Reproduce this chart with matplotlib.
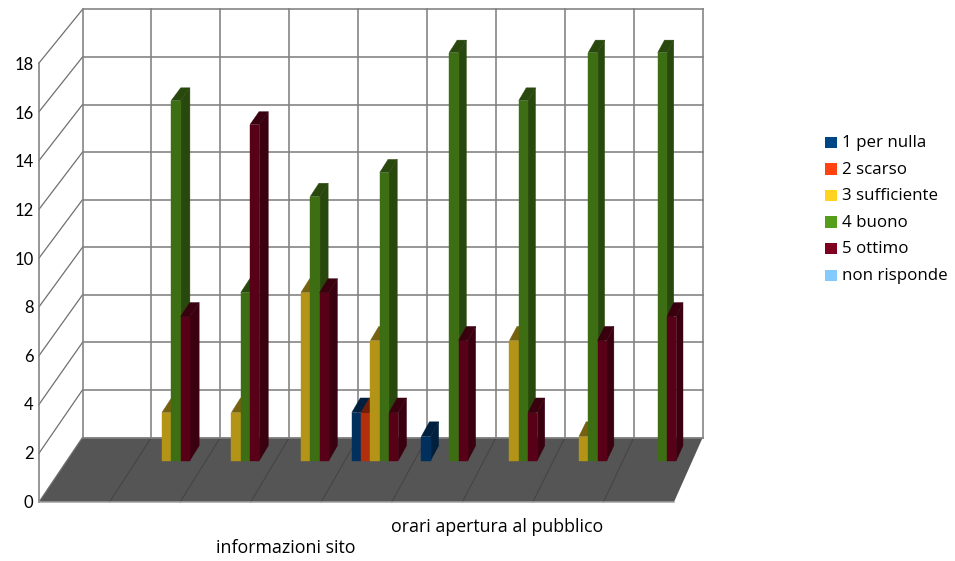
import matplotlib
matplotlib.use("Agg")
import matplotlib.pyplot as plt
from matplotlib.patches import Polygon, Rectangle

plt.rcParams['font.family'] = ['Lato', 'DejaVu Sans']

# Survey answer counts per topic (nine topics, the first has no answers)
category_labels = ["", "", "", "informazioni sito", "", "", "orari apertura al pubblico", "", ""]
series_names = ["1 per nulla", "2 scarso", "3 sufficiente", "4 buono", "5 ottimo", "non risponde"]
series_colors = ["#004586", "#ff420e", "#ffd320", "#579d1c", "#7e0021", "#83caff"]
per_nulla = [0, 0, 0, 0, 2, 1, 0, 0, 0]
scarso = [0, 0, 0, 0, 2, 0, 0, 0, 0]
sufficiente = [0, 2, 2, 7, 5, 0, 5, 1, 0]
buono = [0, 15, 7, 11, 12, 17, 15, 17, 17]
ottimo = [0, 6, 14, 7, 2, 5, 2, 5, 6]
non_risponde = [0, 0, 0, 0, 0, 0, 0, 0, 0]
series_values = [per_nulla, scarso, sufficiente, buono, ottimo, non_risponde]
y_ticks = list(range(0, 19, 2))
y_max = 18

# Box projection: cat in category units, val in axis units, depth 0 (front) to 1 (back)
FRONT_LEFT, FRONT_RIGHT, FRONT_Y, FRONT_UNIT = 39.0, 674.0, 502.0, 24.39
BACK_LEFT, BACK_RIGHT, BACK_Y, BACK_UNIT = 82.5, 702.7, 437.5, 23.78
N_CAT = len(category_labels)


def project(cat, val, depth):
    left = FRONT_LEFT + (BACK_LEFT - FRONT_LEFT) * depth
    right = FRONT_RIGHT + (BACK_RIGHT - FRONT_RIGHT) * depth
    floor = FRONT_Y + (BACK_Y - FRONT_Y) * depth
    unit = FRONT_UNIT + (BACK_UNIT - FRONT_UNIT) * depth
    return left + (right - left) * cat / N_CAT, floor - unit * val


def shade(hex_color, factor):
    rgb = matplotlib.colors.to_rgb(hex_color)
    return tuple(c * factor for c in rgb)


fig = plt.figure(figsize=(9.55, 5.61), dpi=100, facecolor="white")
ax = fig.add_axes([0, 0, 1, 1])
ax.set_xlim(0, 955)
ax.set_ylim(561, 0)
ax.axis("off")

GRID = "#808080"
GRID_W = 1.15

# Floor
ax.add_patch(Polygon([project(0, 0, 0), project(N_CAT, 0, 0), project(N_CAT, 0, 1), project(0, 0, 1)],
                     closed=True, facecolor="#555555", edgecolor="none", zorder=1))
for i in range(1, N_CAT):
    ax.plot(*zip(project(i, 0, 0), project(i, 0, 1)), color="#454545", lw=0.8, zorder=1.5)

# Walls and grid
for v in y_ticks:
    ax.plot(*zip(project(0, v, 0), project(0, v, 1)), color="#707070", lw=0.9, zorder=2)
    ax.plot(*zip(project(0, v, 1), project(N_CAT, v, 1)), color=GRID, lw=GRID_W, zorder=2)
    x, y = project(0, v, 0)
    ax.text(x - 5.5, y + 0.7 + 1.5 * v / y_max, str(v), ha="right", va="center",
            fontsize=12, color="black", zorder=5)
for i in range(N_CAT + 1):
    ax.plot(*zip(project(i, 0, 1), project(i, y_max, 1)), color=GRID, lw=GRID_W, zorder=2)
ax.plot(*zip(project(0, 0, 0), project(0, y_max, 0)), color=GRID, lw=GRID_W, zorder=2)
ax.plot(*zip(project(0, 0, 0), project(N_CAT, 0, 0)), color="#a0a0a0", lw=1.1, zorder=2)

# Bars, painted left to right so nearer faces cover their neighbours
DEPTH_FRONT, DEPTH_BACK = 0.643, 0.873
SLOT = 0.1338
n_series = len(series_values)
z = 3.0
for cat in range(N_CAT):
    for s, values in enumerate(series_values):
        v = values[cat]
        if v <= 0:
            continue
        x0 = cat + 0.5 - SLOT * n_series / 2 + SLOT * s
        x1 = x0 + SLOT
        base = series_colors[s]
        front = [project(x0, 0, DEPTH_FRONT), project(x1, 0, DEPTH_FRONT),
                 project(x1, v, DEPTH_FRONT), project(x0, v, DEPTH_FRONT)]
        side = [project(x1, 0, DEPTH_FRONT), project(x1, 0, DEPTH_BACK),
                project(x1, v, DEPTH_BACK), project(x1, v, DEPTH_FRONT)]
        top = [project(x0, v, DEPTH_FRONT), project(x1, v, DEPTH_FRONT),
               project(x1, v, DEPTH_BACK), project(x0, v, DEPTH_BACK)]
        for pts, factor in ((side, 0.46), (top, 0.46), (front, 0.70)):
            col = shade(base, factor)
            ax.add_patch(Polygon(pts, closed=True, facecolor=col, edgecolor=col, lw=0.3, zorder=z))
            z += 0.001

# Category labels, staggered on two rows
rows = {3: 548, 6: 527}
for i, label in enumerate(category_labels):
    if label:
        x, _ = project(i + 0.5, 0, 0)
        ax.text(x, rows[i], label, ha="center", va="center", fontsize=12.8,
                family=["Open Sans", "DejaVu Sans"], color="black", zorder=5)

# Legend
legend_y = [142, 168.5, 195, 221.5, 248, 275]
for name, col, y in zip(series_names, series_colors, legend_y):
    ax.add_patch(Rectangle((825, y - 5.5), 11.5, 11.5, facecolor=col, edgecolor="none", zorder=5))
    ax.text(842, y + 1.2, name, ha="left", va="center", fontsize=12.2,
            family=["Open Sans", "DejaVu Sans"], color="black", zorder=5)

fig.savefig("out.png", dpi=100, facecolor="white")
